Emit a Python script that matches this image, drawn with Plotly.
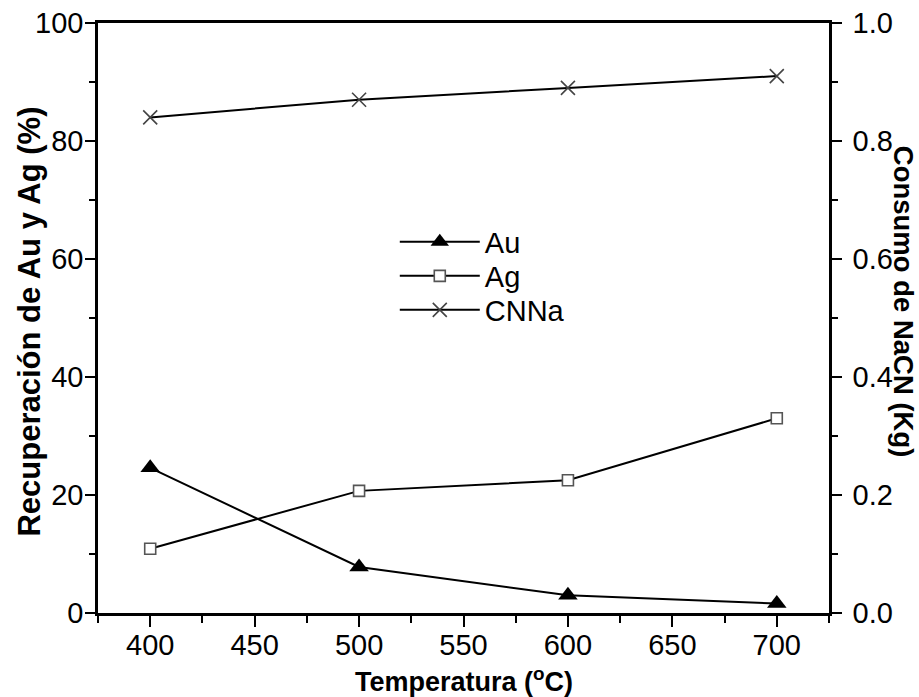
import plotly.graph_objects as go

temperatura = [400, 500, 600, 700]
au = [24.6, 7.8, 3.0, 1.6]
ag = [10.9, 20.7, 22.5, 33.0]
cnna = [0.84, 0.87, 0.89, 0.91]

FONT = "Liberation Sans, Arial, sans-serif"

fig = go.Figure()
fig.add_trace(go.Scatter(
    x=temperatura, y=au, name="Au", mode="lines+markers", legend="legend",
    line=dict(color="black", width=2),
    marker=dict(symbol="triangle-up", size=17, color="black"),
))
fig.add_trace(go.Scatter(
    x=temperatura, y=ag, name="Ag", mode="lines+markers", legend="legend2",
    line=dict(color="black", width=2),
    marker=dict(symbol="square", size=11, color="white",
                line=dict(color="#555555", width=1.6)),
))
fig.add_trace(go.Scatter(
    x=temperatura, y=cnna, name="CNNa", mode="lines+markers", yaxis="y2",
    legend="legend3",
    line=dict(color="black", width=2),
    marker=dict(symbol="x-thin", size=14,
                line=dict(color="#444444", width=1.6)),
))

axis_common = dict(
    showgrid=False, zeroline=False, showline=True, linecolor="black",
    linewidth=2.5, ticks="outside", tickcolor="black", tickwidth=2,
    automargin=False,
    tickfont=dict(family=FONT, size=29, color="black"),
)

legend_common = dict(
    x=0.406, xanchor="left", yanchor="middle",
    bgcolor="rgba(0,0,0,0)", borderwidth=0,
    font=dict(family=FONT, size=29, color="black"),
    itemwidth=80, tracegroupgap=0,
)

fig.update_layout(
    template="none",
    width=919, height=697,
    paper_bgcolor="white", plot_bgcolor="white",
    margin=dict(l=98, r=90, t=23, b=84, pad=0),
    showlegend=True,
    legend=dict(y=0.6288, **legend_common),
    legend2=dict(y=0.5712, **legend_common),
    legend3=dict(y=0.5136, **legend_common),
    xaxis=dict(
        range=[375, 725], tickvals=[400, 450, 500, 550, 600, 650, 700],
        ticklen=11, mirror=True, ticklabelstandoff=-7,
        minor=dict(dtick=25, tick0=375, ticklen=7, tickwidth=2,
                   tickcolor="black", ticks="outside", showgrid=False),
        **axis_common,
    ),
    yaxis=dict(
        range=[0, 100], dtick=20, ticklen=10, ticklabelstandoff=-4,
        minor=dict(dtick=10, ticklen=6, tickwidth=2, tickcolor="black",
                   ticks="outside", showgrid=False),
        **axis_common,
    ),
    yaxis2=dict(
        range=[0, 1.0], dtick=0.2, tickformat=".1f", ticklen=10,
        overlaying="y", side="right", ticklabelstandoff=5,
        minor=dict(dtick=0.1, ticklen=6, tickwidth=2, tickcolor="black",
                   ticks="outside", showgrid=False),
        **axis_common,
    ),
    annotations=[
        dict(text="<b>Recuperación de Au y Ag (%)</b>", textangle=-90,
             xref="paper", yref="paper", x=-0.095, y=0.4932,
             xanchor="center", yanchor="middle", showarrow=False,
             font=dict(family=FONT, size=31, color="black")),
        dict(text="<b>Consumo de NaCN (Kg)</b>", textangle=90,
             xref="paper", yref="paper", x=1.103, y=0.527,
             xanchor="center", yanchor="middle", showarrow=False,
             font=dict(family=FONT, size=27.5, color="black")),
        dict(text="<b>Temperatura (<sup>o</sup>C)</b>",
             xref="paper", yref="paper", x=0.5, y=-0.113,
             xanchor="center", yanchor="middle", showarrow=False,
             font=dict(family=FONT, size=27, color="black")),
    ],
)

fig.write_html("out.html",
               config={"displayModeBar": False},
               post_script="document.body.style.margin='0';"
                           "document.body.style.overflow='hidden';")
